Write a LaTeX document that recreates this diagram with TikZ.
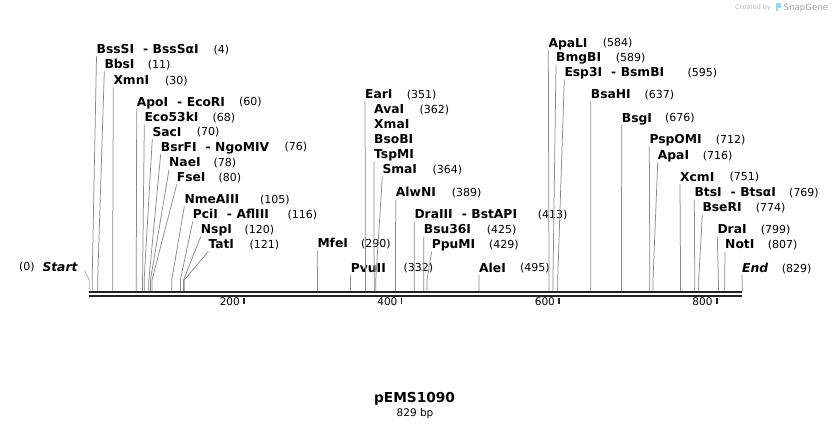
\documentclass[tikz,border=0pt]{standalone}
\usepackage{fontspec}
\setmainfont{DejaVu Sans}
\definecolor{cutgray}{RGB}{138,138,138}
\definecolor{axisgray}{RGB}{34,34,34}
\definecolor{snapblue}{RGB}{160,214,244}
\newcommand\sep{\hspace{9pt}-\hspace{4.5pt}}

\begin{document}
\begin{tikzpicture}[
  x=1pt, y=-1pt,
  enzyme/.style={anchor=base west, inner sep=0pt, yshift=-4.4pt,
    font=\bfseries\fontsize{12.3}{14}\selectfont},
  site/.style={anchor=base west, inner sep=0pt, yshift=-4.1pt,
    font=\fontsize{11}{13}\selectfont},
  ends/.style={enzyme, font=\bfseries\itshape\fontsize{12.3}{14}\selectfont},
  cut/.style={draw=cutgray, line width=.75pt},
  axis/.style={draw=axisgray, line width=2.4pt},
  tick/.style={draw=axisgray, line width=1.7pt},
  ticklabel/.style={anchor=north east, inner sep=0pt,
    font=\fontsize{10.5}{12}\selectfont},
]
\useasboundingbox (0,0) rectangle (832,430);

% sequence line
\coordinate (a0) at (89,292.2);
\coordinate (a1) at (742,292.2);
\draw[axis] (a0) -- (a1);
\draw[axis, line width=2.3pt] ([yshift=-4pt]a0) -- ([yshift=-4pt]a1);
\foreach \t in {200,400,600,800} {
  \coordinate (t\t) at ({86.5+0.7877*\t},298);
  \draw[tick] (t\t) -- ++(0,6);
  \node[ticklabel] (l\t) at ([xshift=-4pt]t\t) {\t};
}

% enzyme sites
\foreach \nm/\tx/\ty/\num/\nx/\b [count=\i] in {
  BssSI\sep BssSαI/96.5/49/4/213.3/4,
  BbsI/104.3/64/11/147.7/11,
  XmnI/113.3/80/30/165/30,
  ApoI\sep EcoRI/136.7/101.7/60/239/60,
  Eco53kI/144.3/117.3/68/212.3/68,
  SacI/152.3/131.7/70/196.7/70,
  BsrFI\sep NgoMIV/160.7/146.7/76/284.3/76,
  NaeI/169/162.3/78/213.3/78,
  FseI/176.7/177/80/218.3/80,
  NmeAIII/184.3/199.3/105/260/105,
  PciI\sep AflIII/192.7/214/116/287.3/116,
  NspI/200.7/229.3/120/244.3/120,
  TatI/208.3/244/121/249.3/121,
  MfeI/317.3/243.3/290/361/290,
  PvuII/350.7/267.7/332/403.3/332,
  EarI/365/94/351/406.7/351,
  SmaI/382.3/169.3/364/432.3/364,
  AlwNI/395.7/192.3/389/451.7/389,
  DraIII\sep BstAPI/414.3/214.3/413/537.7/413,
  Bsu36I/423.7/229.3/425/486.7/425,
  PpuMI/431.7/244.3/429/489/429,
  AleI/479/267.7/495/520/495,
  ApaLI/548.3/42.7/584/602.7/584,
  BmgBI/556/57.3/589/615.7/589,
  Esp3I\sep BsmBI/564.3/72.3/595/687.3/595,
  BsaHI/590.7/94.3/637/644.3/637,
  BsgI/621.7/117.7/676/665/676,
  PspOMI/649.3/139/712/715.7/712,
  ApaI/657.7/155/716/702.7/716,
  XcmI/680/176.7/751/729.3/751,
  BtsI\sep BtsαI/694.3/192.3/769/789/769,
  BseRI/702.3/207.3/774/755.7/774,
  DraI/717.3/229.3/799/760.7/799,
  NotI/725/244.3/807/767.7/807} {
  \node[enzyme] (e\i) at (\tx,\ty) {\nm};
  \node[site] (p\i) at (\nx,\ty) {(\num)};
  \coordinate (c\i) at ({89+0.7877*\b},291);
  \draw[cut] ([yshift=-3pt]e\i.base west) -- ([yshift=11pt]c\i) -- (c\i);
}

% four names on one site
\node[enzyme] (ava) at (374,109.3) {AvaI};
\node[site] (pava) at (419.3,109.3) {(362)};
\node[enzyme] (xma) at (374,123.8) {XmaI};
\node[enzyme] (bso) at (374,138.8) {BsoBI};
\node[enzyme] (tsp) at (374,154) {TspMI};
\coordinate (cava) at ({89+0.7877*362},291);
\draw[cut] ([yshift=-3pt]tsp.base west) -- ([yshift=11pt]cava) -- (cava);

% ends of the sequence
\node[site] (p0) at (19,266.7) {(0)};
\node[ends] (startlbl) at (42.3,266.7) {Start};
\coordinate (c0) at (89.3,291);
\draw[cut, draw=cutgray!70] ([xshift=7pt]startlbl.base east) -- ([yshift=11pt]c0) -- (c0);
\node[ends] (endlbl) at (742,268.3) {End};
\node[site] (pend) at (781.7,268.3) {(829)};
\coordinate (cend) at (742.3,291);
\draw[cut] ([yshift=-2pt]endlbl.base west) -- (cend);

% title
\node[anchor=base, inner sep=0pt, font=\bfseries\fontsize{13.7}{16}\selectfont]
  (title) at (414.5,402.7) {pEMS1090};
\node[anchor=base, inner sep=0pt, font=\fontsize{10.5}{12}\selectfont]
  (length) at (415,416.3) {829 bp};

% credit
\node[anchor=base west, inner sep=0pt, text=black!28, font=\fontsize{6.5}{8}\selectfont]
  (credit) at (735,9.5) {Created by};
\fill[snapblue, rounded corners=1.2pt] (776,3) rectangle (781,8.5);
\fill[snapblue] (776,3) rectangle (778.3,11.5);
\node[anchor=base west, inner sep=0pt, text=black!38, font=\fontsize{8.6}{10}\selectfont]
  (snap) at (783.5,10.3) {SnapGene};
\end{tikzpicture}
\end{document}
